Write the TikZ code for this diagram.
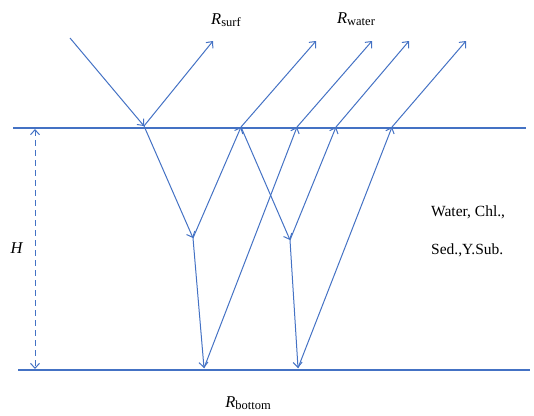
\documentclass[tikz,border=0pt]{standalone}
\usepackage{fontspec}
\setmainfont{Liberation Serif}
\usepackage{tikz}
\usetikzlibrary{positioning,arrows.meta}
\definecolor{rayblue}{RGB}{68,114,196}
\newcommand{\reflab}[1]{\textit{R}\raisebox{-0.3ex}{\fontsize{12.5}{13}\selectfont #1}}

\begin{document}
\begin{tikzpicture}[
  x=1pt, y=-1pt,
  ray/.style={draw=rayblue, line width=1pt, -{Straight Barb[length=5pt,width=9pt]}},
  level/.style={draw=rayblue, line width=1.1pt},
  depth/.style={draw=rayblue, line width=1pt, dashed, dash pattern=on 6pt off 4pt,
    {Straight Barb[length=5pt,width=9pt]}-{Straight Barb[length=5pt,width=9pt]}},
  lbl/.style={font=\fontsize{16.5}{18}\selectfont, inner sep=0pt},
  txt/.style={font=\fontsize{15.5}{17}\selectfont, inner sep=0pt, anchor=west}
]
\useasboundingbox (0,0) rectangle (534,415);

% surface and bottom
\coordinate (surfL) at (13,128);  \coordinate (surfR) at (526,128);
\coordinate (botL)  at (18,370);  \coordinate (botR)  at (530,370);
\draw[level] (surfL) -- (surfR);
\draw[level] (botL) -- (botR);

% points of the rays
\coordinate (sun)  at (70,38);
\coordinate (s1) at (144,126);
\coordinate (s2) at (241,127);
\coordinate (s3) at (297,127);
\coordinate (s4) at (336,127);
\coordinate (s5) at (392,127);
\coordinate (w1) at (193,238);
\coordinate (w2) at (290,240);
\coordinate (b1) at (204,368);
\coordinate (b2) at (298,368);
\coordinate (t1) at (213,41);
\coordinate (t2) at (316,41);
\coordinate (t3) at (372,41);
\coordinate (t4) at (409,41);
\coordinate (t5) at (466,41);

% incident and surface reflection
\draw[ray] (sun) -- (s1);
\draw[ray] (s1) -- (t1);

% in the water
\draw[ray] (s1) -- (w1);
\draw[ray] (w1) -- (b1);
\draw[ray] (w1) -- (s2);
\draw[ray] (s2) -- (w2);
\draw[ray] (w2) -- (b2);
\draw[ray] (w2) -- (s4);
\draw[ray] (b1) -- (s3);
\draw[ray] (b2) -- (s5);

% leaving the water
\draw[ray] (s2) -- (t2);
\draw[ray] (s3) -- (t3);
\draw[ray] (s4) -- (t4);
\draw[ray] (s5) -- (t5);

% depth
\coordinate (hTop) at (35,129);
\coordinate (hBot) at (35,369);
\draw[depth] (hTop) -- (hBot);

% labels
\node[lbl] (rsurf)   at (226,20)  {\reflab{surf}};
\node[lbl] (rwater)  at (356,19)  {\reflab{water}};
\node[lbl] (hlbl)    at (17,248)  {\textit{H}};
\node[lbl] (rbottom) at (248,403) {\reflab{bottom}};
\node[txt] (cons1) at (431,212) {Water, Chl.,};
\node[txt] (cons2) at (431,250) {Sed.,Y.Sub.};
\end{tikzpicture}
\end{document}
